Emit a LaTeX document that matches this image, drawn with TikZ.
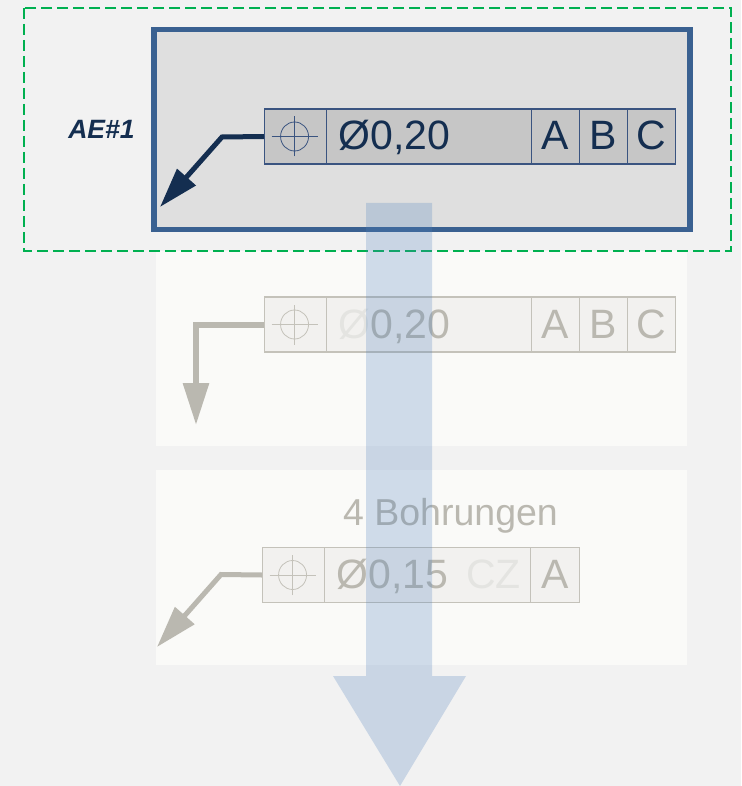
\documentclass[tikz,border=0pt]{standalone}
\usepackage{fontspec}
\setmainfont{Liberation Sans}
\usetikzlibrary{arrows.meta}
\definecolor{pagebg}{HTML}{F2F2F2}
\definecolor{panelbg}{HTML}{FAFAF8}
\definecolor{activebg}{HTML}{DFDFDF}
\definecolor{activeframe}{HTML}{3A6191}
\definecolor{navy}{HTML}{142E50}
\definecolor{cellnavy}{HTML}{3A5480}
\definecolor{cellactive}{HTML}{C6C6C6}
\definecolor{ghost}{HTML}{BAB8B0}
\definecolor{ghostline}{HTML}{C4C2BA}
\definecolor{ghostcell}{HTML}{F2F1EF}
\definecolor{ghostpale}{HTML}{E4E4E1}
\definecolor{flow}{HTML}{4F81BD}
\definecolor{selgreen}{HTML}{00B050}
\tikzset{
  x=1pt,y=-1pt,
  panel/.style={fill=panelbg,draw=none},
  gdtcell/.style={draw,line width=1.1pt,minimum height=55pt,inner xsep=0pt,inner ysep=0pt,
    font=\fontsize{41}{41}\selectfont,text height=27pt,text depth=0pt,anchor=west},
  activecell/.style={gdtcell,draw=cellnavy,fill=cellactive,text=navy},
  ghostbox/.style={gdtcell,draw=ghostline,fill=ghostcell,text=ghost},
  symline/.style={line width=0.8pt},
  leaderactive/.style={draw=navy,line width=5pt,line join=miter,-{Triangle[length=40pt,width=24pt,fill=navy]}},
  leaderghost/.style={draw=ghost,line width=#1,line join=miter,-{Triangle[length=42pt,width=25pt,fill=ghost]}},
}
\newcommand{\gdtsym}[2]{%
  \draw[symline,#2] ([xshift=-1pt]#1.center) ellipse[x radius=14,y radius=14.5];
  \draw[symline,#2] ([xshift=-24pt]#1.center) -- ([xshift=22pt]#1.center);
  \draw[symline,#2] ([xshift=-1pt,yshift=-20pt]#1.center) -- ([xshift=-1pt,yshift=20pt]#1.center);
}
\begin{document}
\begin{tikzpicture}
\useasboundingbox (0,0) rectangle (741,786);
\fill[pagebg] (0,0) rectangle (741,786);
% panels
\path[panel] (156,251) rectangle (687,446);
\path[panel] (156,470) rectangle (687,665);
\draw[activeframe,line width=5.5pt,fill=activebg] (154,29.5) rectangle (690,229.5);
% selection
\draw[selgreen,line width=2pt,dash pattern=on 11pt off 5pt] (24,8) rectangle (731,251);
\node[font=\bfseries\itshape\fontsize{26.5}{26.5}\selectfont,text=navy,inner sep=0pt] (ae) at (101.5,129) {AE\#1};
% first frame
\node[activecell,minimum width=62pt] (s1) at (264,136.5) {};
\node[activecell,minimum width=205pt,text width=205pt,align=left] (v1) at (326,136.5) {\hspace*{12pt}Ø0,20};
\node[activecell,minimum width=48pt] (a1) at (531,136.5) {A};
\node[activecell,minimum width=48pt] (b1) at (579,136.5) {B};
\node[activecell,minimum width=48pt] (c1) at (627,136.5) {C};
\gdtsym{s1}{cellnavy}
\coordinate (k1) at (222,137);
\coordinate (t1) at (160,207);
\draw[leaderactive] (s1.west) -- (k1) -- (t1);
% second frame
\node[ghostbox,minimum width=62pt] (s2) at (264,324.5) {};
\node[ghostbox,minimum width=205pt,text width=205pt,align=left] (v2) at (326,324.5) {\hspace*{12pt}\textcolor{ghostpale}{Ø}0,20};
\node[ghostbox,minimum width=48pt] (a2) at (531,324.5) {A};
\node[ghostbox,minimum width=48pt] (b2) at (579,324.5) {B};
\node[ghostbox,minimum width=48pt] (c2) at (627,324.5) {C};
\gdtsym{s2}{ghostline}
\coordinate (k2) at (196,324.5);
\coordinate (t2) at (196,425);
\draw[leaderghost=6pt] (s2.west) -- (k2) -- (t2);
% third frame
\node[font=\fontsize{37.5}{37.5}\selectfont,text=ghost,inner sep=0pt] (holes) at (450.5,516) {4 Bohrungen};
\node[ghostbox,minimum width=62pt] (s3) at (262,575) {};
\node[ghostbox,minimum width=206pt,text width=206pt,align=left] (v3) at (324,575) {\hspace*{12pt}Ø0,15\hspace*{18pt}\textcolor{ghostpale}{CZ}};
\node[ghostbox,minimum width=49pt] (a3) at (530,575) {A};
\gdtsym{s3}{ghostline}
\coordinate (k3) at (221,574.5);
\coordinate (t3) at (157,647);
\draw[leaderghost=5pt] (s3.west) -- (k3) -- (t3);
% flow arrow
\fill[flow,opacity=0.25] (366,203) -- (432,203) -- (432,676) -- (466,676) -- (400,786) -- (333,676) -- (366,676) -- cycle;
\end{tikzpicture}
\end{document}
